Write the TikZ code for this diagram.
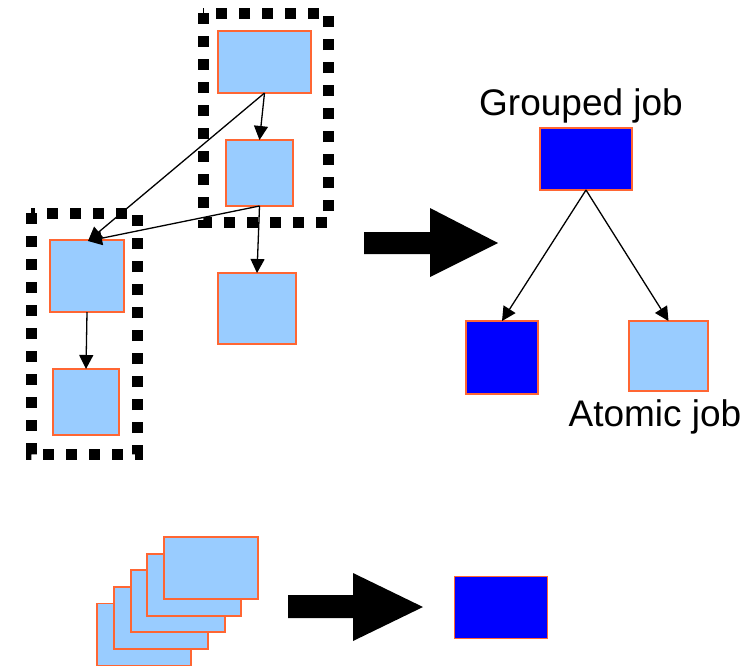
\documentclass[tikz,border=0pt]{standalone}
\usepackage{fontspec}
\setmainfont{Liberation Sans}
\usetikzlibrary{arrows.meta}
\definecolor{lightjob}{HTML}{99CCFF}
\definecolor{darkjob}{HTML}{0000FF}
\definecolor{jobedge}{HTML}{FF6633}
\begin{document}
\begin{tikzpicture}[x=1pt,y=-1pt,
  jobbox/.style={draw=jobedge,line width=1.8pt,fill=lightjob,inner sep=0pt,outer sep=0pt},
  darkbox/.style={jobbox,fill=darkjob},
  groupline/.style={line width=11pt,dash pattern=on 11pt off 12pt},
  conn/.style={line width=1.3pt,-{Triangle[length=14pt,width=14pt]}},
  bigarrow/.style={fill=black,draw=none},
  lbl/.style={font=\fontsize{37}{44}\selectfont,inner sep=0pt}
]
\useasboundingbox (0,0) rectangle (747,665);
\fill[white] (0,0) rectangle (747,665);

% dotted groups
\draw[groupline] (203,13) rectangle (328,222);
\draw[groupline] (31,213) rectangle (137,454);

% left graph
\node[jobbox,minimum width=93pt,minimum height=62pt] (A) at (264.5,62) {};
\node[jobbox,minimum width=67pt,minimum height=66pt] (B) at (259.5,173) {};
\node[jobbox,minimum width=74pt,minimum height=72pt] (C) at (87,276) {};
\node[jobbox,minimum width=66pt,minimum height=66pt] (D) at (86,402) {};
\node[jobbox,minimum width=78pt,minimum height=71pt] (E) at (257,308.5) {};

\coordinate (Ctop) at (88,241);
\draw[conn] (A.south) -- (B.north);
\draw[conn] (A.south) -- (Ctop);
\draw[conn] (B.south) -- (Ctop);
\draw[conn] (B.south) -- (E.north);
\draw[conn] (C.south) -- (D.north);

% big arrow 1
\fill[bigarrow] (364,232) -- (430,232) -- (430,208) -- (498,243) -- (430,277) -- (430,254) -- (364,254) -- cycle;

% right tree
\node[darkbox,minimum width=92pt,minimum height=62pt] (G) at (586,159) {};
\node[darkbox,minimum width=72pt,minimum height=73pt] (K) at (502,357.5) {};
\node[jobbox,minimum width=79pt,minimum height=70pt] (L) at (668.5,356) {};
\draw[conn] (G.south) -- (K.north);
\draw[conn] (G.south) -- (L.north);
\node[lbl] (gl) at (581,106) {Grouped job};
\node[lbl] (al) at (655,417) {Atomic job};

% stack
\foreach \k in {4,3,2,1,0}{
  \node[jobbox,minimum width=94pt,minimum height=62pt] (S\k) at ({211-16.7*\k},{568+16.6*\k}) {};
}

% big arrow 2
\fill[bigarrow] (288,595) -- (353,595) -- (353,573) -- (423,607) -- (353,641) -- (353,618) -- (288,618) -- cycle;

\node[darkbox,minimum width=93pt,minimum height=62pt] (M) at (501,607.5) {};
\end{tikzpicture}
\end{document}
